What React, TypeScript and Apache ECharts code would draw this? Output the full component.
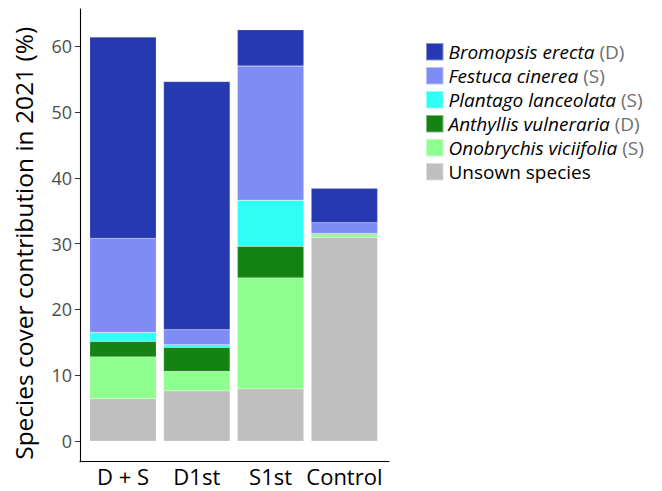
import React, { useEffect, useRef } from "react";
import * as echarts from "echarts";

const categories = ["D + S", "D1st", "S1st", "Control"];
const unsown = [6.45, 7.63, 7.93, 30.95];
const onobrychis = [6.35, 2.95, 16.87, 0.45];
const anthyllis = [2.35, 3.66, 4.8, 0.15];
const plantago = [1.35, 0.41, 7.0, 0.0];
const festuca = [14.3, 2.28, 20.4, 1.65];
const bromopsis = [30.6, 37.7, 5.5, 5.2];

const yTicks = [0, 10, 20, 30, 40, 50, 60];
const yMin = -3.13;
const yMax = 65.65;

const speciesNames = [
  "Bromopsis erecta",
  "Festuca cinerea",
  "Plantago lanceolata",
  "Anthyllis vulneraria",
  "Onobrychis viciifolia",
  "Unsown species",
];
const speciesTags = ["D", "S", "S", "D", "S", ""];
const speciesItalic = [true, true, true, true, true, false];
const speciesColors = ["#2639B0", "#7F8CF6", "#30FFF6", "#148314", "#8EFF8E", "#BFBFBF"];
const speciesValues = [bromopsis, festuca, plantago, anthyllis, onobrychis, unsown];

const FONT = "Open Sans";

export default function App() {
  const ref = useRef<HTMLDivElement>(null);
  useEffect(() => {
    if (!ref.current) return;
    const chart = echarts.init(ref.current, undefined, { renderer: "svg" });
    // stack from bottom (unsown) to top (bromopsis)
    const order = [5, 4, 3, 2, 1, 0];
    const series = order.map((i) => ({
      name: speciesNames[i],
      type: "bar",
      stack: "total",
      xAxisIndex: 1,
      yAxisIndex: 1,
      barWidth: "90%",
      data: speciesValues[i],
      itemStyle: {
        color: speciesColors[i],
        borderColor: "rgba(255,255,255,0.45)",
        borderWidth: 0.4,
      },
    }));
    chart.setOption({
      animation: false,
      textStyle: { fontFamily: FONT },
      grid: [
        { left: 80, right: 273, top: 9, bottom: 29.3, containLabel: false },
        { left: 86.1, right: 280.7, top: 9, bottom: 29.3, containLabel: false },
      ],
      xAxis: [
        {
          gridIndex: 0,
          type: "value",
          min: 0,
          max: 1,
          axisLine: { show: true, onZero: false, lineStyle: { color: "#000", width: 1.1 } },
          axisTick: { show: false },
          axisLabel: { show: false },
          splitLine: { show: false },
        },
        {
          gridIndex: 1,
          type: "category",
          data: categories,
          axisLine: { show: false },
          axisTick: { show: false },
          axisLabel: {
            color: "#000",
            fontSize: 22,
            lineHeight: 21,
            margin: 4,
            interval: 0,
            fontFamily: FONT,
          },
        },
      ],
      yAxis: [
        {
          gridIndex: 0,
          type: "value",
          min: yMin,
          max: yMax,
          name: "Species cover contribution in 2021 (%)",
          nameLocation: "middle",
          nameRotate: 90,
          nameGap: 44,
          nameTextStyle: {
            color: "#000",
            fontSize: 24.5,
            fontFamily: FONT,
            padding: [0, 16, 0, 0],
          },
          axisLine: { show: true, onZero: false, lineStyle: { color: "#000", width: 1.1 } },
          axisTick: { show: true, length: 5, customValues: yTicks, lineStyle: { color: "#333" } },
          axisLabel: { color: "#4D4D4D", fontSize: 18, margin: 8, customValues: yTicks, fontFamily: FONT },
          splitLine: { show: false },
        },
        {
          gridIndex: 1,
          type: "value",
          min: yMin,
          max: yMax,
          show: false,
          splitLine: { show: false },
        },
      ],
      legend: {
        orient: "vertical",
        left: 425,
        top: 42,
        padding: 0,
        itemWidth: 17.5,
        itemHeight: 17.5,
        itemGap: 4.5,
        icon: "rect",
        data: speciesNames,
        formatter: (name: string) => {
          const i = speciesNames.indexOf(name);
          const main = speciesItalic[i] ? `{i|${name}}` : `{n|${name}}`;
          return speciesTags[i] ? `${main} {g|(${speciesTags[i]})}` : main;
        },
        textStyle: {
          fontFamily: FONT,
          fontSize: 19,
          lineHeight: 18,
          rich: {
            i: { fontStyle: "italic", color: "#000", fontSize: 19, fontFamily: FONT, lineHeight: 18 },
            n: { color: "#000", fontSize: 19, fontFamily: FONT, lineHeight: 18 },
            g: { color: "#6E6E6E", fontSize: 19, fontFamily: FONT, lineHeight: 18 },
          },
        },
      },
      series,
    });
    return () => chart.dispose();
  }, []);
  return <div ref={ref} style={{ width: 662, height: 491, position: "absolute", left: 0, top: 0 }} />;
}
